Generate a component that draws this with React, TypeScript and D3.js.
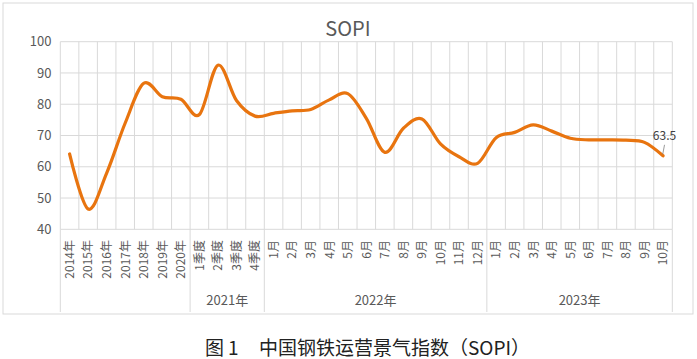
import React from "react";
import * as d3 from "d3";

const categories = [
  "2014年", "2015年", "2016年", "2017年", "2018年", "2019年", "2020年",
  "1季度", "2季度", "3季度", "4季度",
  "1月", "2月", "3月", "4月", "5月", "6月", "7月", "8月", "9月", "10月", "11月", "12月",
  "1月", "2月", "3月", "4月", "5月", "6月", "7月", "8月", "9月", "10月",
];
const groupLabels = ["", "2021年", "2022年", "2023年"];
const groupSizes = [7, 4, 12, 10];
const values = [
  64.1, 46.5, 58.0, 74.0, 86.7, 82.4, 81.6,
  76.7, 92.5, 81.2, 76.2,
  77.1, 77.9, 78.3, 81.4, 83.4, 75.5, 64.6, 72.3, 75.3, 67.3, 63.2, 61.1,
  69.3, 71.0, 73.4, 71.4, 69.1, 68.6, 68.6, 68.5, 67.8, 63.5,
];
const yTicks = [40, 50, 60, 70, 80, 90, 100];
const title = "SOPI";

const FONT = '"Noto Sans CJK SC", "Noto Sans", sans-serif';

export default function App() {
  const W = 697, H = 359;
  const left = 60.3, right = 672.3, top = 41.7, bottom = 229.3;
  const idx = categories.map((_, i) => i);
  const x = d3.scaleBand<number>().domain(idx).range([left, right]).paddingInner(0).paddingOuter(0);
  const y = d3.scaleLinear().domain([40, 100]).range([bottom, top]);
  const cx = (i: number) => (x(i) as number) + x.bandwidth() / 2;
  const line = d3
    .line<number>()
    .x((_, i) => cx(i))
    .y((d) => y(d))
    .curve(d3.curveCardinal.tension(0));

  const bounds: number[] = [0];
  groupSizes.forEach((s, i) => bounds.push(bounds[i] + s));
  const bx = (k: number) => (k < categories.length ? (x(k) as number) : right);

  const last = values.length - 1;
  const lx = cx(last), ly = y(values[last]);

  return (
    <svg width={W} height={H} style={{ position: "absolute", left: 0, top: 0, background: "#fff" }} fontFamily={FONT}>
      <rect x={0} y={0} width={W} height={H} fill="#fff" />
      <rect x={3} y={3} width={690} height={311} fill="#fff" stroke="#d9d9d9" strokeWidth={1} />
      <text x={348} y={36} textAnchor="middle" fontSize={20} fill="#595959">{title}</text>
      {yTicks.map((t) => (
        <line key={"h" + t} x1={left} x2={right} y1={y(t)} y2={y(t)} stroke="#d9d9d9" strokeWidth={1} />
      ))}
      {d3.range(categories.length + 1).map((k) => (
        <line key={"v" + k} x1={bx(k)} x2={bx(k)} y1={top} y2={bottom} stroke="#d9d9d9" strokeWidth={1} />
      ))}
      {bounds.map((k) => (
        <line key={"g" + k} x1={bx(k)} x2={bx(k)} y1={bottom} y2={312} stroke="#d9d9d9" strokeWidth={1} />
      ))}
      {yTicks.map((t) => (
        <text key={"yl" + t} x={51.5} y={y(t)} dy="0.36em" textAnchor="end" fontSize={13} fill="#595959">{t}</text>
      ))}
      {categories.map((c, i) => (
        <text
          key={"c" + i}
          transform={`translate(${cx(i) + 4.3},${240}) rotate(-90)`}
          textAnchor="end"
          fontSize={12}
          fill="#595959"
        >
          {c}
        </text>
      ))}
      {groupLabels.map((g, i) =>
        g ? (
          <text key={"gl" + i} x={(bx(bounds[i]) + bx(bounds[i + 1])) / 2} y={305} textAnchor="middle" fontSize={13} fill="#595959">
            {g}
          </text>
        ) : null
      )}
      <path d={line(values) || ""} fill="none" stroke="#E8740F" strokeWidth={3.2} strokeLinejoin="round" strokeLinecap="round" />
      <line x1={lx + 1.5} y1={ly - 11} x2={lx - 0.3} y2={ly - 1.5} stroke="#7f7f7f" strokeWidth={0.8} />
      <text x={lx + 1.5} y={140} textAnchor="middle" fontSize={12} fill="#404040">{values[last]}</text>
      <text y={355} fontSize={19} fill="#222">
        <tspan x={205}>图</tspan>
        <tspan x={228}>1</tspan>
        <tspan x={259}>中国钢铁运营景气指数（SOPI）</tspan>
      </text>
    </svg>
  );
}
